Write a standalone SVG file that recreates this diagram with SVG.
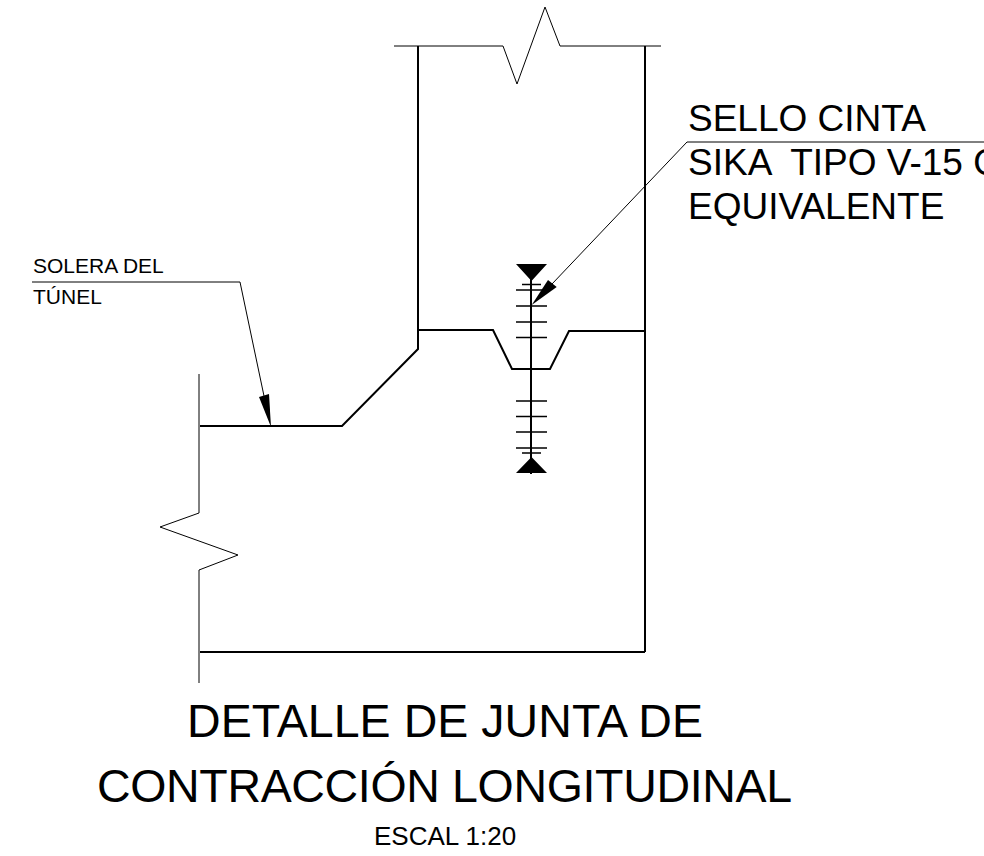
<svg xmlns="http://www.w3.org/2000/svg" width="984" height="856" viewBox="0 0 984 856">
<style>
.h{fill:none;stroke:#000;stroke-width:2}
.m{fill:none;stroke:#000;stroke-width:1.4}
.t{fill:none;stroke:#000;stroke-width:1}
.f{fill:#000;stroke:none}
text{font-family:"Liberation Sans",Arial,sans-serif;fill:#000;white-space:pre}
</style>
<rect width="984" height="856" fill="#fff"/>
<g id="outline">
<path class="h" d="M418 46V330M645 46V652M200 652H645"/>
<path class="h" d="M200 426H342L418 349V330H493L512 369H550L569 331H645"/>
<path class="t" d="M394 46H503L517 84L545 7L560 46H661"/>
<path class="t" d="M199 374V513L160 527L238 555L199 570V683"/>
</g>
<g id="junta">
<path class="h" d="M531 264V474"/>
<path class="f" d="M516 264H547L531.500 281ZM516 473H547L531.500 457Z"/>
<path class="m" d="M522 284.500H541M516 290H547M516 306H547M516 322H547M516 337.500H547M516 401H547M516 416.500H547M516 432H547M516 448H547M522 453H541"/>
</g>
<g id="leader-sello">
<path class="t" d="M984 142H687L552 284"/>
<path class="f" d="M531.700 305L548 280L556.700 287Z"/>
</g>
<g id="leader-solera">
<path class="t" d="M32 282H240L264 396"/>
<path class="f" d="M271 427L259 397L269 394Z"/>
</g>
<g id="labels">
<text x="688" y="130.500" font-size="37">SELLO CINTA</text>
<text x="688" y="175" font-size="37">SIKA  TIPO V-15 O</text>
<text x="688" y="219" font-size="37">EQUIVALENTE</text>
<text x="33" y="273" font-size="21">SOLERA DEL</text>
<text x="33" y="304" font-size="21">TÚNEL</text>
<text x="187" y="737" font-size="46.500" textLength="516">DETALLE DE JUNTA DE</text>
<text x="97" y="802" font-size="46.500" textLength="695">CONTRACCIÓN LONGITUDINAL</text>
<text x="374" y="845" font-size="26">ESCAL 1:20</text>
</g>
</svg>
